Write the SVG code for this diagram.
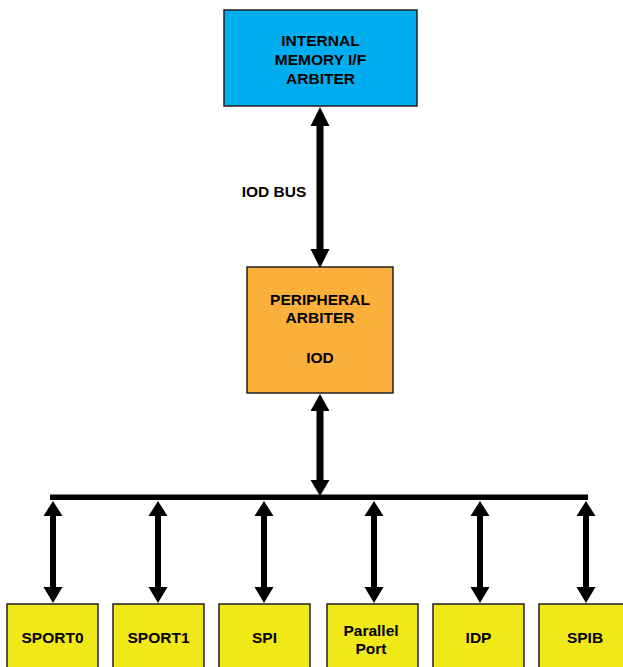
<svg xmlns="http://www.w3.org/2000/svg" width="623" height="667" viewBox="0 0 623 667">
<style>
.box{stroke:#231F20;stroke-width:1.5}
.t{font-family:"Liberation Sans",Arial,sans-serif;font-weight:bold;font-size:15.5px;fill:#000;text-anchor:middle;dominant-baseline:central}
.arr{fill:#000}
</style>
<rect width="623" height="667" fill="#fff"/>
<g id="n-imif">
<rect class="box" x="224" y="10" width="193" height="96" fill="#00AEEF"/>
<text class="t" x="320.5" y="40">INTERNAL</text>
<text class="t" x="320.5" y="59">MEMORY I/F</text>
<text class="t" x="320.5" y="78">ARBITER</text>
</g>
<g id="n-periph">
<rect class="box" x="247" y="267" width="146" height="126" fill="#FBB03B"/>
<text class="t" x="320" y="299">PERIPHERAL</text>
<text class="t" x="320" y="317">ARBITER</text>
<text class="t" x="320" y="357">IOD</text>
</g>
<g id="n-sport0"><rect class="box" x="7" y="604" width="91" height="70" fill="#F0E817"/><text class="t" x="52.5" y="637">SPORT0</text></g>
<g id="n-sport1"><rect class="box" x="113" y="604" width="91" height="70" fill="#F0E817"/><text class="t" x="158.5" y="637">SPORT1</text></g>
<g id="n-spi"><rect class="box" x="219" y="604" width="91" height="70" fill="#F0E817"/><text class="t" x="264.5" y="637">SPI</text></g>
<g id="n-pp"><rect class="box" x="327" y="604" width="91" height="70" fill="#F0E817"/><text class="t" x="371" y="630">Parallel</text><text class="t" x="371" y="648">Port</text></g>
<g id="n-idp"><rect class="box" x="433" y="604" width="91" height="70" fill="#F0E817"/><text class="t" x="478.5" y="637">IDP</text></g>
<g id="n-spib"><rect class="box" x="539" y="604" width="91" height="70" fill="#F0E817"/><text class="t" x="585" y="637">SPIB</text></g>
<g id="connectors">
<path class="arr" d="M320,107 L329.5,126 L323.5,126 L323.5,249 L329.5,249 L320,268 L310.5,249 L316.5,249 L316.5,126 L310.5,126 Z"/>
<text class="t" x="274" y="191">IOD BUS</text>
<path class="arr" d="M320,394 L329.5,411 L323.5,411 L323.5,480 L329.5,480 L320,496 L310.5,480 L316.5,480 L316.5,411 L310.5,411 Z"/>
<rect class="arr" x="50" y="494.5" width="538" height="5.5"/>
<path class="arr" d="M53,501 L62.5,516 L56,516 L56,587 L62.5,587 L53,603 L43.5,587 L50,587 L50,516 L43.5,516 Z"/>
<path class="arr" d="M158,501 L167.5,516 L161,516 L161,587 L167.5,587 L158,603 L148.5,587 L155,587 L155,516 L148.5,516 Z"/>
<path class="arr" d="M264,501 L273.5,516 L267,516 L267,587 L273.5,587 L264,603 L254.5,587 L261,587 L261,516 L254.5,516 Z"/>
<path class="arr" d="M374,501 L383.5,516 L377,516 L377,587 L383.5,587 L374,603 L364.5,587 L371,587 L371,516 L364.5,516 Z"/>
<path class="arr" d="M480,501 L489.5,516 L483,516 L483,587 L489.5,587 L480,603 L470.5,587 L477,587 L477,516 L470.5,516 Z"/>
<path class="arr" d="M586,501 L595.5,516 L589,516 L589,587 L595.5,587 L586,603 L576.5,587 L583,587 L583,516 L576.5,516 Z"/>
</g>
</svg>
